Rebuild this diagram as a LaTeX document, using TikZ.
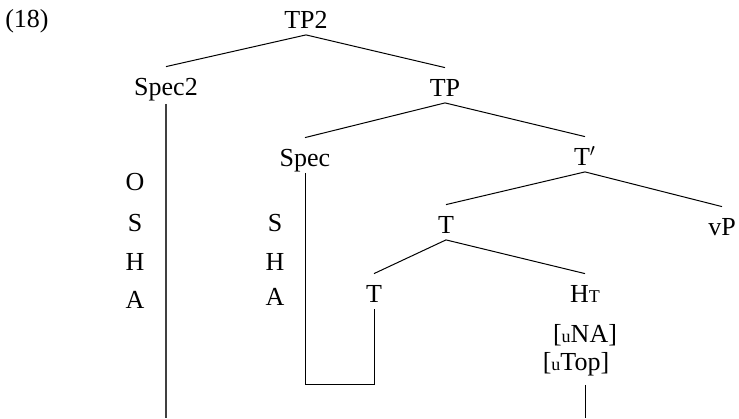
\documentclass[tikz,border=0pt]{standalone}
\usepackage{fontspec}
\setmainfont{Liberation Serif}
\newcommand{\featsize}[1]{{\fontsize{9}{9}\selectfont #1}}

\begin{document}
\begin{tikzpicture}[x=0.5pt, y=-0.5pt,
    lbl/.style={anchor=base, inner xsep=0pt, inner ysep=3.25pt,
      text height=10.75pt, text depth=0pt, font=\fontsize{13}{15}\selectfont},
    branch/.style={line width=0.5pt}]
  \useasboundingbox (0,0) rectangle (739,418);
  \coordinate (bot) at (0,418);
  \node[lbl] (ex) at (27,27.5) {(18)};
  \node[lbl] (tp2) at (306,28) {TP2};
  \node[lbl] (spec2) at (166,95) {Spec2};
  \node[lbl] (tp) at (445,96) {TP};
  \node[lbl] (spec) at (305,166) {Spec};
  \node[lbl] (tbar) at (585,165) {T$'$};
  \node[lbl] (tmid) at (446,233) {T};
  \node[lbl] (vp) at (722,235) {vP};
  \node[lbl] (tlow) at (374,302) {T};
  \node[lbl] (ht) at (585,302) {H\featsize{T}};
  \node[lbl] (una) at (585,342) {[\featsize{u}NA]};
  \node[lbl] (utop) at (576,370) {[\featsize{u}Top]};
  \foreach \l/\y in {O/190, S/231, H/270, A/308}
    \node[lbl] (left\l) at (135,\y) {\l};
  \foreach \l/\y in {S/231, H/270, A/305}
    \node[lbl] (right\l) at (275,\y) {\l};
  \draw[branch] (tp2.south) -- (spec2.north);
  \draw[branch] (tp2.south) -- (tp.north);
  \draw[branch] (tp.south) -- (spec.north);
  \draw[branch] (tp.south) -- (tbar.north);
  \draw[branch] (tbar.south) -- (tmid.north);
  \draw[branch] (tbar.south) -- (vp.north);
  \draw[branch] (tmid.south) -- (tlow.north);
  \draw[branch] (tmid.south) -- (ht.north);
  \coordinate (foot) at ([yshift=-4pt]utop.south);
  \draw[line width=1pt, black!75] ([yshift=-1pt]spec2.south) -- (spec2 |- bot);
  \draw[branch] (spec.south) |- (tlow |- foot) -- (tlow.south);
  \draw[branch] (ht |- foot) -- (ht |- bot);
\end{tikzpicture}
\end{document}
